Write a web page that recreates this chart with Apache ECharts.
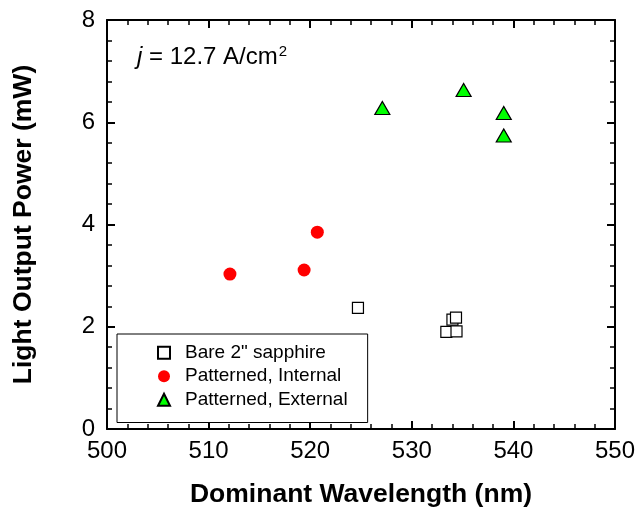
<!DOCTYPE html>
<html>
<head>
<meta charset="utf-8">
<script src="https://cdn.jsdelivr.net/npm/echarts@6/dist/echarts.min.js"></script>
<style>
html,body{margin:0;padding:0;background:#fff;}
#c{width:641px;height:513px;}
</style>
</head>
<body>
<div id="c"></div>
<script>
// ---- data ----
var xTicks = [500, 510, 520, 530, 540, 550];
var yTicks = [0, 2, 4, 6, 8];
var bareSapphire = [[524.7, 2.37], [533.4, 1.9], [534.0, 2.14], [534.35, 2.18], [534.4, 1.91]];
var patternedInternal = [[512.1, 3.03], [519.4, 3.11], [520.7, 3.85]];
var patternedExternal = [[527.1, 6.28], [535.1, 6.63], [539.05, 6.18], [539.05, 5.74]];
var seriesNames = ['Bare 2" sapphire', 'Patterned, Internal', 'Patterned, External'];

var FONT = "'Liberation Sans', Arial, sans-serif";
var chart = echarts.init(document.getElementById('c'));

function axisBase(extra) {
  var o = {
    type: 'value',
    axisLine: { show: true, onZero: false, lineStyle: { color: '#000', width: 2 } },
    axisTick: { show: true, inside: true, length: 8, lineStyle: { color: '#000', width: 2 } },
    minorTick: { show: true, splitNumber: 5, length: 5, lineStyle: { color: '#000', width: 1.5 } },
    splitLine: { show: false },
    minorSplitLine: { show: false }
  };
  for (var k in extra) o[k] = extra[k];
  return o;
}

var option = {
  backgroundColor: '#fff',
  animation: false,
  grid: { left: 107, right: 26, top: 20, bottom: 80, containLabel: false },
  xAxis: [
    axisBase({
      min: xTicks[0], max: xTicks[xTicks.length - 1], interval: xTicks[1] - xTicks[0],
      position: 'bottom',
      name: 'Dominant Wavelength (nm)', nameLocation: 'middle', nameGap: 52,
      nameTextStyle: { fontFamily: FONT, fontSize: 26.5, fontWeight: 'bold', color: '#000' },
      axisLabel: { show: true, fontFamily: FONT, fontSize: 24, color: '#000', margin: 10 }
    }),
    axisBase({
      min: xTicks[0], max: xTicks[xTicks.length - 1], interval: xTicks[1] - xTicks[0],
      position: 'top', axisLabel: { show: false }
    })
  ],
  yAxis: [
    axisBase({
      min: yTicks[0], max: yTicks[yTicks.length - 1], interval: yTicks[1] - yTicks[0],
      position: 'left',
      name: 'Light Output Power (mW)', nameLocation: 'middle', nameGap: 70,
      nameTextStyle: { fontFamily: FONT, fontSize: 26.5, fontWeight: 'bold', color: '#000' },
      axisLabel: { show: true, fontFamily: FONT, fontSize: 24, color: '#000', margin: 12 }
    }),
    axisBase({
      min: yTicks[0], max: yTicks[yTicks.length - 1], interval: yTicks[1] - yTicks[0],
      position: 'right', axisLabel: { show: false }
    })
  ],
  legend: {
    orient: 'vertical',
    left: 117, top: 334,
    padding: [7, 20, 11, 40],
    borderColor: '#000', borderWidth: 1,
    backgroundColor: '#fff',
    itemWidth: 12, itemHeight: 12,
    itemGap: 0,
    textStyle: { fontFamily: FONT, fontSize: 19, color: '#000', lineHeight: 23.5, padding: [0, 0, 0, 10] },
    data: seriesNames
  },
  series: [
    {
      name: seriesNames[0], type: 'scatter', data: bareSapphire,
      symbol: 'rect', symbolSize: 11,
      itemStyle: { color: '#fff', borderColor: '#000', borderWidth: 1.2, opacity: 1 }
    },
    {
      name: seriesNames[1], type: 'scatter', data: patternedInternal,
      symbol: 'circle', symbolSize: 13,
      itemStyle: { color: '#ff0000', opacity: 1 }
    },
    {
      name: seriesNames[2], type: 'scatter', data: patternedExternal,
      symbol: 'triangle', symbolSize: [15, 13],
      itemStyle: { color: '#00ff00', borderColor: '#000', borderWidth: 1.2, opacity: 1 }
    }
  ],
  graphic: [
    {
      type: 'text', left: 137, top: 44, z: 10,
      style: {
        text: '{i|j} = 12.7 A/cm{s|2}',
        font: '24px ' + FONT, fill: '#000',
        rich: {
          i: { fontStyle: 'italic', fontSize: 24, fontFamily: FONT, fill: '#000' },
          s: { fontSize: 15, fontFamily: FONT, verticalAlign: 'top', padding: [0, 0, 12, 1] }
        }
      }
    }
  ]
};
chart.setOption(option);
</script>
</body>
</html>
